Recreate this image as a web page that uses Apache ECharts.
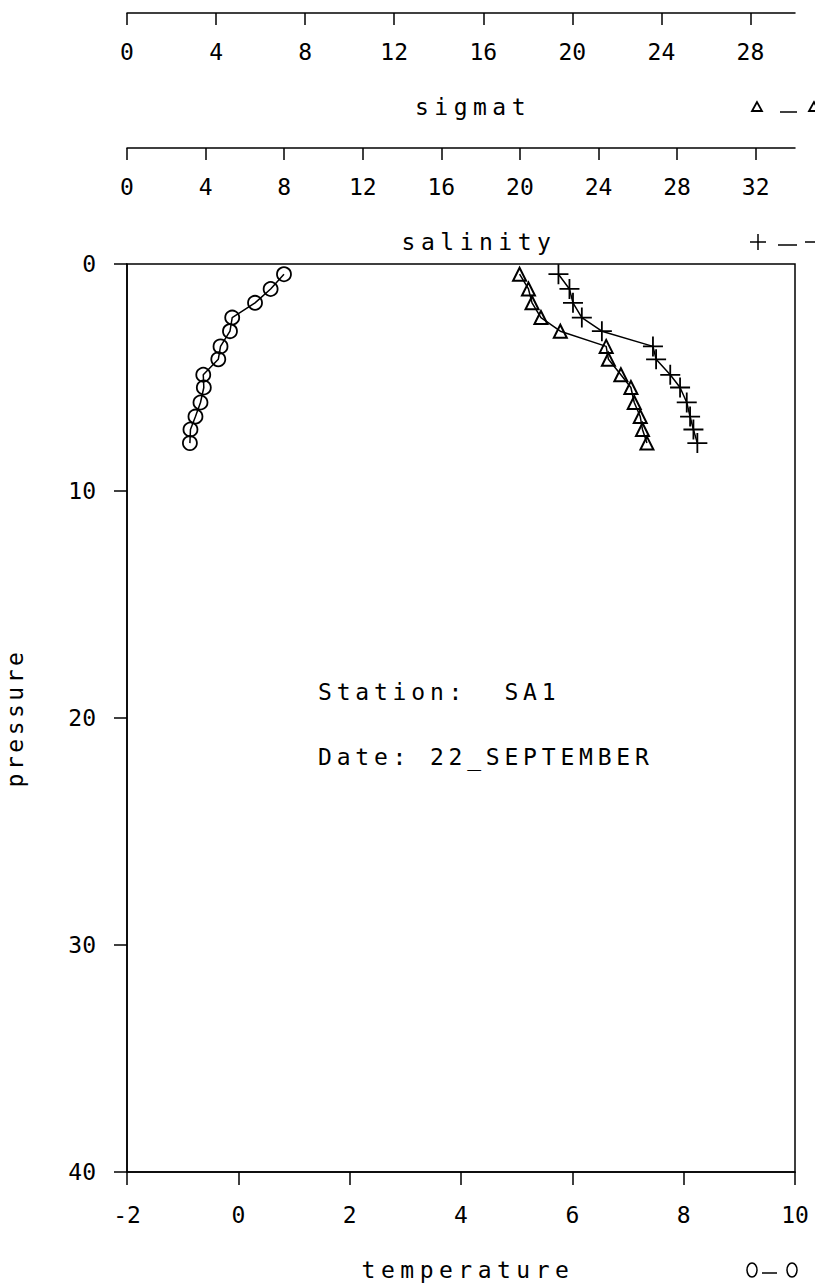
<!DOCTYPE html>
<html><head><meta charset="utf-8">
<script src="https://cdn.jsdelivr.net/npm/echarts@6/dist/echarts.min.js"></script>
<style>html,body{margin:0;padding:0;background:#fff}#c{width:815px;height:1287px}</style>
</head><body><div id="c"></div>
<script>
// ---- data ----
const pressure    = [0.45, 1.10, 1.71, 2.36, 2.96, 3.63, 4.20, 4.88, 5.44, 6.10, 6.72, 7.29, 7.89];
const temperature = [0.82, 0.58, 0.30, -0.11, -0.15, -0.32, -0.36, -0.63, -0.62, -0.68, -0.77, -0.86, -0.87];
const sigmat      = [17.63, 18.03, 18.19, 18.59, 19.46, 21.52, 21.62, 22.18, 22.63, 22.78, 23.05, 23.15, 23.35];
const salinity    = [21.96, 22.52, 22.70, 23.15, 24.17, 26.77, 26.93, 27.65, 28.15, 28.49, 28.66, 28.83, 29.03];
const tempTicks     = [-2, 0, 2, 4, 6, 8, 10];
const sigmatTicks   = [0, 4, 8, 12, 16, 20, 24, 28];
const salinityTicks = [0, 4, 8, 12, 16, 20, 24, 28, 32];
const pressureTicks = [0, 10, 20, 30, 40];
const stationText = 'Station:  SA1';
const dateText = 'Date: 22_SEPTEMBER';

const FONT = '"DejaVu Sans Mono", monospace';
const FS = 23;
const black = '#000';

function pairs(xs) { return xs.map((x, i) => [x, pressure[i]]); }

const axisCommon = {
  type: 'value',
  splitLine: { show: false },
  axisLine: { show: true, onZero: false, lineStyle: { color: black, width: 1.5 } },
  axisTick: { show: true, length: 12, lineStyle: { color: black, width: 1.5 } },
  axisLabel: { color: black, fontFamily: FONT, fontSize: FS }
};

const chart = echarts.init(document.getElementById('c'), null, { renderer: 'svg' });
chart.setOption({
  animation: false,
  backgroundColor: '#fff',
  grid: { left: 127, right: 20, top: 264, bottom: 115, show: true, borderColor: black, borderWidth: 1.5, backgroundColor: 'transparent' },
  xAxis: [
    Object.assign({}, axisCommon, {
      position: 'bottom', min: tempTicks[0], max: tempTicks[tempTicks.length - 1], interval: 2,
      axisTick: Object.assign({}, axisCommon.axisTick, { length: 13, customValues: tempTicks }),
      axisLabel: Object.assign({}, axisCommon.axisLabel, { customValues: tempTicks, margin: 31 })
    }),
    Object.assign({}, axisCommon, {
      position: 'top', offset: 251, min: 0, max: 30,
      axisTick: Object.assign({}, axisCommon.axisTick, { inside: true, customValues: sigmatTicks }),
      axisLabel: Object.assign({}, axisCommon.axisLabel, { inside: true, customValues: sigmatTicks, margin: 27 })
    }),
    Object.assign({}, axisCommon, {
      position: 'top', offset: 116, min: 0, max: 34,
      axisTick: Object.assign({}, axisCommon.axisTick, { inside: true, customValues: salinityTicks }),
      axisLabel: Object.assign({}, axisCommon.axisLabel, { inside: true, customValues: salinityTicks, margin: 27 })
    })
  ],
  yAxis: Object.assign({}, axisCommon, {
    inverse: true, min: 0, max: 40, interval: 10,
    axisTick: Object.assign({}, axisCommon.axisTick, { length: 13, customValues: pressureTicks }),
    axisLabel: Object.assign({}, axisCommon.axisLabel, { customValues: pressureTicks, margin: 31 })
  }),
  series: [
    { name: 'temperature', type: 'line', xAxisIndex: 0, data: pairs(temperature),
      symbol: 'circle', symbolSize: 14, lineStyle: { color: black, width: 1.5 },
      itemStyle: { color: 'rgba(0,0,0,0)', borderColor: black, borderWidth: 1.8 } },
    { name: 'sigmat', type: 'line', xAxisIndex: 1, data: pairs(sigmat),
      symbol: 'triangle', symbolSize: 13, lineStyle: { color: black, width: 1.5 },
      itemStyle: { color: 'rgba(0,0,0,0)', borderColor: black, borderWidth: 2 } },
    { name: 'salinity', type: 'line', xAxisIndex: 2, data: pairs(salinity),
      symbol: 'path://M10,0 L10,20 M0,10 L20,10', symbolSize: 20, lineStyle: { color: black, width: 1.5 },
      itemStyle: { color: 'rgba(0,0,0,0)', borderColor: black, borderWidth: 1.8 } }
  ],
  graphic: [
    { type: 'text', x: 473, y: 107, style: { text: 'sigmat', font: FS + 'px ' + FONT, fill: black, textAlign: 'center', textVerticalAlign: 'middle' } },
    { type: 'text', x: 479, y: 242, style: { text: 'salinity', font: FS + 'px ' + FONT, fill: black, textAlign: 'center', textVerticalAlign: 'middle' } },
    { type: 'text', x: 468, y: 1270, style: { text: 'temperature', font: FS + 'px ' + FONT, fill: black, textAlign: 'center', textVerticalAlign: 'middle' } },
    { type: 'text', x: 15, y: 718, rotation: Math.PI / 2, style: { text: 'pressure', font: FS + 'px ' + FONT, fill: black, textAlign: 'center', textVerticalAlign: 'middle' } },
    { type: 'text', x: 318, y: 692, style: { text: stationText, font: FS + 'px ' + FONT, fill: black, textAlign: 'left', textVerticalAlign: 'middle' } },
    { type: 'text', x: 318, y: 757, style: { text: dateText, font: FS + 'px ' + FONT, fill: black, textAlign: 'left', textVerticalAlign: 'middle' } },
    // legend fragments
    { type: 'polygon', shape: { points: [[757, 102], [752, 111], [762, 111]] }, style: { fill: 'none', stroke: black, lineWidth: 1.8 } },
    { type: 'line', shape: { x1: 780, y1: 112, x2: 797, y2: 112 }, style: { stroke: black, lineWidth: 1.5 } },
    { type: 'polygon', shape: { points: [[814, 102], [809, 111], [819, 111]] }, style: { fill: 'none', stroke: black, lineWidth: 1.8 } },
    { type: 'line', shape: { x1: 750, y1: 242, x2: 766, y2: 242 }, style: { stroke: black, lineWidth: 1.5 } },
    { type: 'line', shape: { x1: 758, y1: 234, x2: 758, y2: 250 }, style: { stroke: black, lineWidth: 1.5 } },
    { type: 'line', shape: { x1: 778, y1: 245, x2: 797, y2: 245 }, style: { stroke: black, lineWidth: 1.5 } },
    { type: 'line', shape: { x1: 805, y1: 242, x2: 815, y2: 242 }, style: { stroke: black, lineWidth: 1.5 } },
    { type: 'ellipse', shape: { cx: 752, cy: 1270, rx: 5, ry: 7 }, style: { fill: 'none', stroke: black, lineWidth: 1.5 } },
    { type: 'line', shape: { x1: 762, y1: 1273, x2: 777, y2: 1273 }, style: { stroke: black, lineWidth: 1.5 } },
    { type: 'ellipse', shape: { cx: 792, cy: 1270, rx: 5, ry: 7 }, style: { fill: 'none', stroke: black, lineWidth: 1.5 } }
  ]
});

function spaceNames() {
  const names = { 'sigmat': '5.5px', 'salinity': '5.5px', 'temperature': '5.5px', 'pressure': '3.5px' };
  names[stationText] = '4.8px';
  names[dateText] = '4.8px';
  document.querySelectorAll('#c svg text').forEach(t => {
    const s = t.textContent;
    if (names[s]) t.style.letterSpacing = names[s];
  });
}
spaceNames();
chart.on('finished', spaceNames);
setTimeout(spaceNames, 50);
</script>
</body></html>
